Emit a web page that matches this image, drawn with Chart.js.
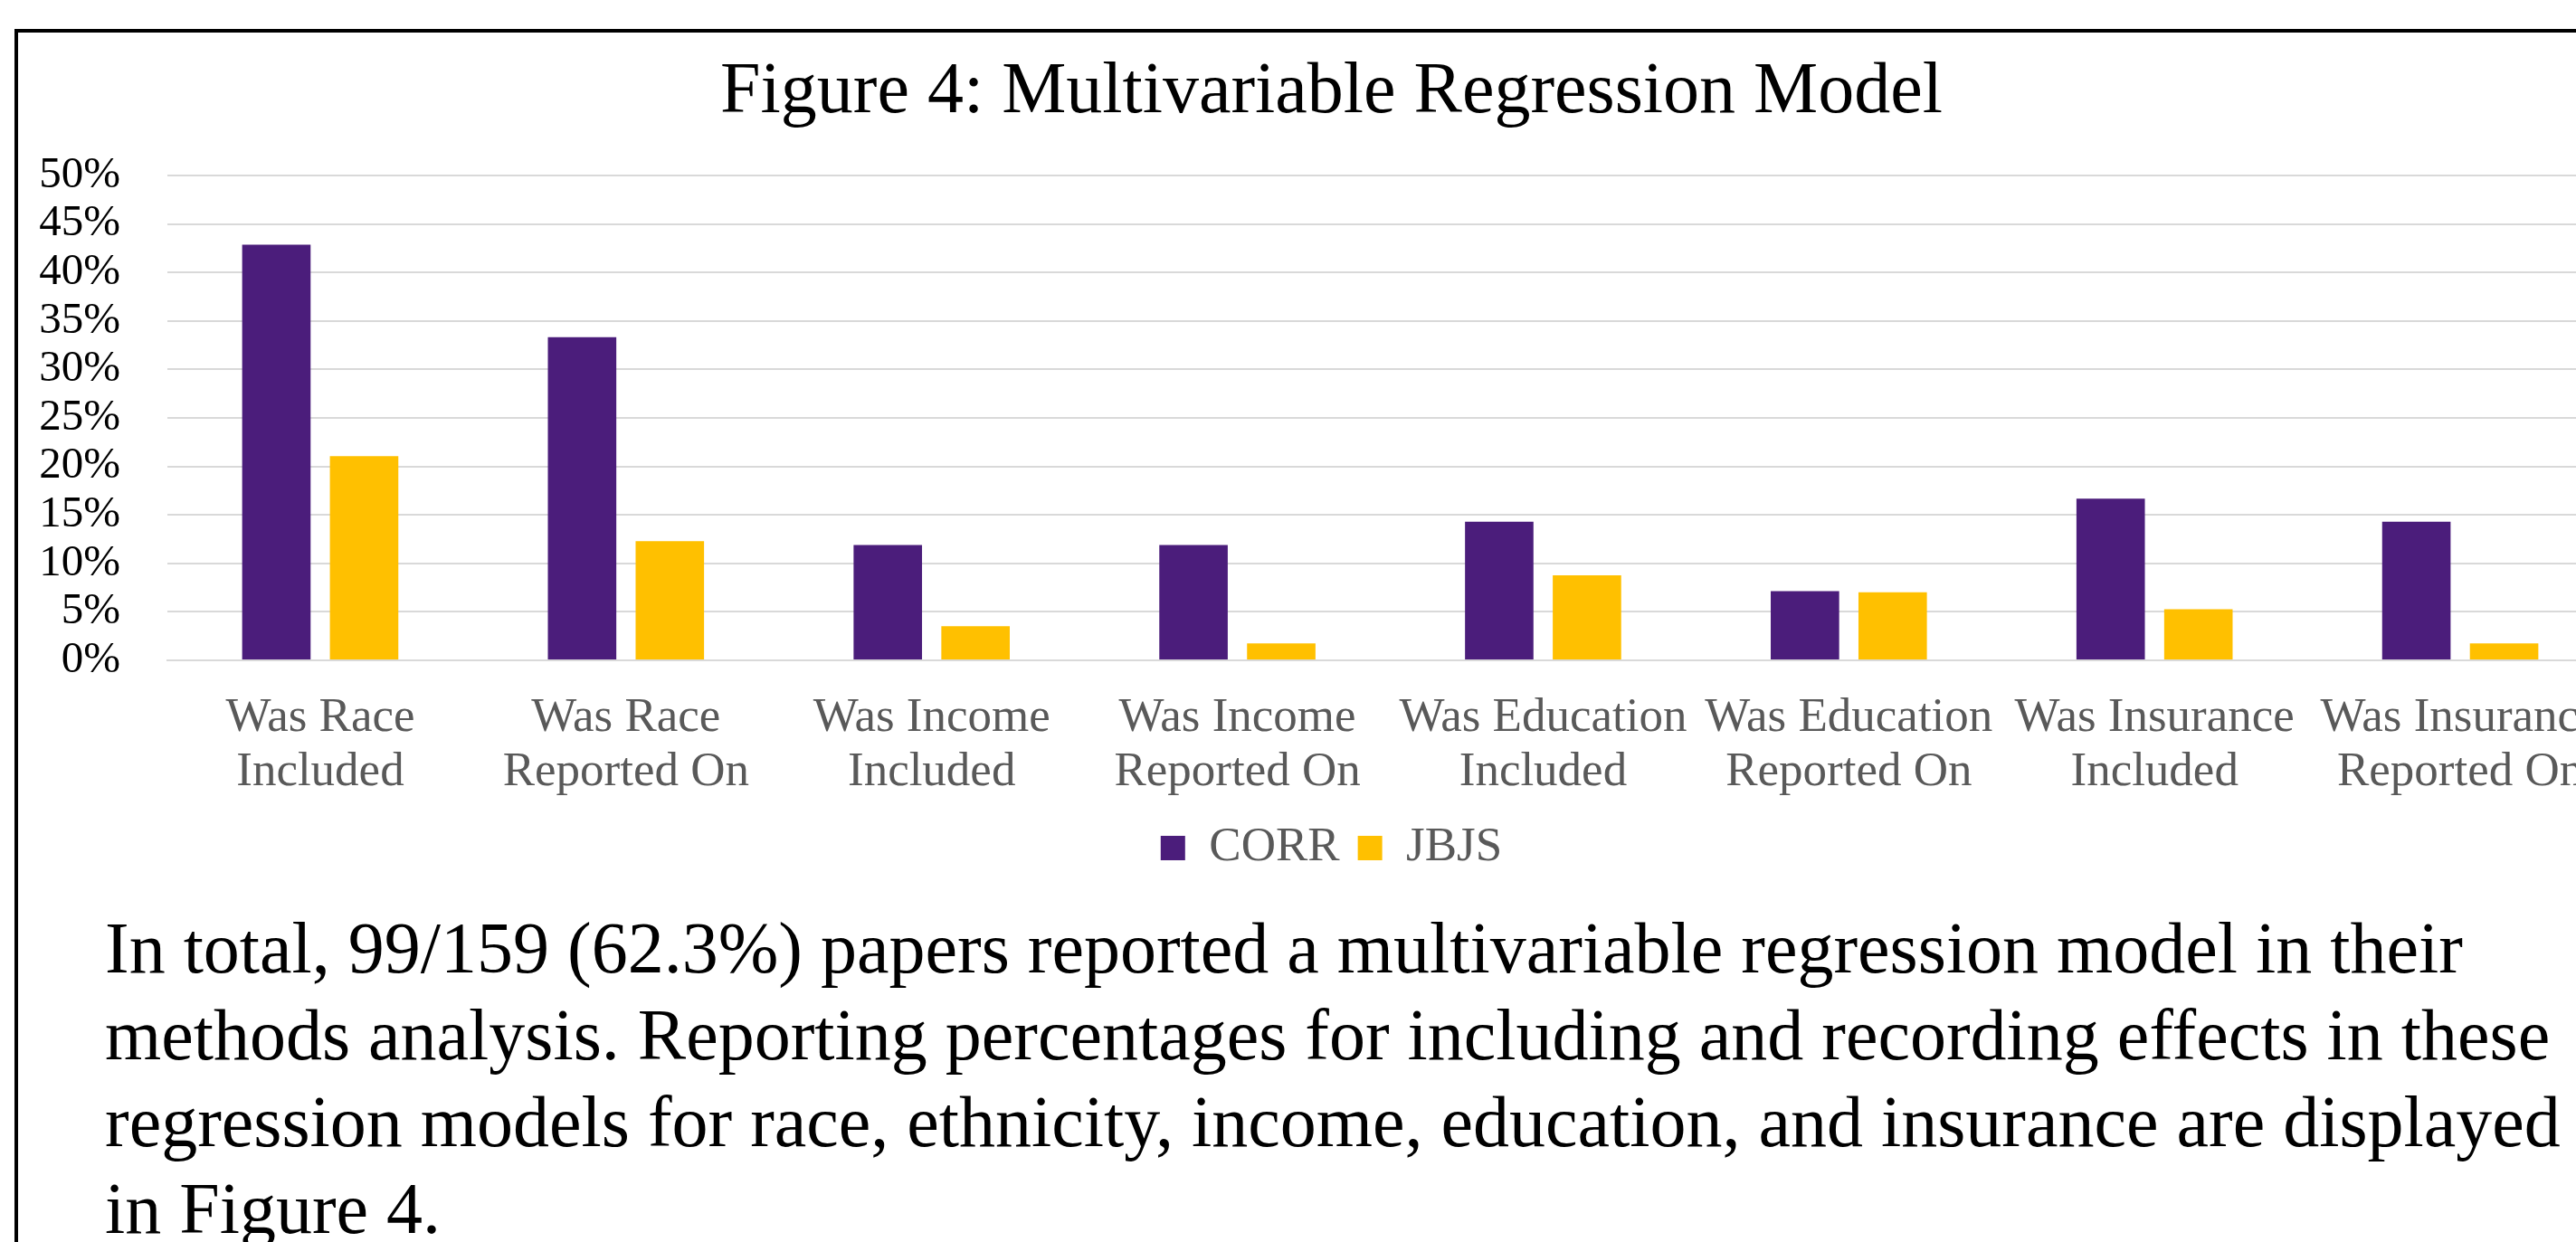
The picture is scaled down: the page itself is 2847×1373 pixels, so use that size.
<!DOCTYPE html>
<html>
<head>
<meta charset="utf-8">
<script src="https://cdn.jsdelivr.net/npm/chart.js@4.4.1/dist/chart.umd.min.js"></script>
<style>
  html, body { margin: 0; padding: 0; background: #ffffff; overflow: hidden; width: 2847px; height: 1373px; }
  #frame { position: absolute; left: 16px; top: 32px; width: 3000px; height: 1500px; border: 4px solid #000000; box-sizing: border-box; }
  #chartCanvas { position: absolute; left: 0; top: 0; }
  #caption { position: absolute; left: 116px; top: 1000px; font-family: 'Liberation Serif', 'Times New Roman', serif; font-size: 80px; line-height: 96px; color: #000000; white-space: nowrap; }
</style>
</head>
<body>
<div id="frame"></div>
<canvas id="chartCanvas" width="2943" height="974"></canvas>
<div id="caption">In total, 99/159 (62.3%) papers reported a multivariable regression model in their<br>methods analysis. Reporting percentages for including and recording effects in these<br>regression models for race, ethnicity, income, education, and insurance are displayed<br>in Figure 4.</div>
<script>
const categories = [
  ['Was Race', 'Included'],
  ['Was Race', 'Reported On'],
  ['Was Income', 'Included'],
  ['Was Income', 'Reported On'],
  ['Was Education', 'Included'],
  ['Was Education', 'Reported On'],
  ['Was Insurance', 'Included'],
  ['Was Insurance', 'Reported On']
];
const seriesNames = ['CORR', 'JBJS'];
const corrValues = [42.86, 33.33, 11.90, 11.90, 14.29, 7.14, 16.67, 14.29];
const jbjsValues = [21.05, 12.28, 3.51, 1.75, 8.77, 7.02, 5.26, 1.75];
const yTicks = [0, 5, 10, 15, 20, 25, 30, 35, 40, 45, 50];
const titleText = 'Figure 4: Multivariable Regression Model';

const serif = "'Liberation Serif', 'Times New Roman', serif";

new Chart(document.getElementById('chartCanvas'), {
  type: 'bar',
  data: {
    labels: categories,
    datasets: [
      { label: seriesNames[0], data: corrValues, backgroundColor: '#4B1D7B', borderWidth: 0,
        categoryPercentage: 0.574, barPercentage: 0.78 },
      { label: seriesNames[1], data: jbjsValues, backgroundColor: '#FFC000', borderWidth: 0,
        categoryPercentage: 0.574, barPercentage: 0.78 }
    ]
  },
  options: {
    responsive: false,
    animation: false,
    devicePixelRatio: 1,
    layout: { padding: { left: 20, right: 20, top: 36, bottom: 0 } },
    plugins: {
      tooltip: { enabled: false },
      title: {
        display: true,
        text: titleText,
        color: '#000000',
        font: { family: serif, size: 80, weight: 'normal', lineHeight: 1.2 },
        padding: { top: 19, bottom: 43 }
      },
      legend: {
        display: true,
        position: 'bottom',
        labels: {
          color: '#595959',
          font: { family: serif, size: 53 },
          boxWidth: 27,
          boxHeight: 27,
          padding: 20
        }
      }
    },
    scales: {
      x: {
        grid: { display: false, drawTicks: false },
        border: { display: true, color: '#D9D9D9', width: 2 },
        ticks: {
          color: '#595959',
          font: { family: serif, size: 53, lineHeight: 1.132 },
          padding: 34,
          autoSkip: false,
          maxRotation: 0,
          minRotation: 0
        },
        afterFit(s) { s.height = 161; }
      },
      y: {
        min: 0,
        max: 50,
        afterBuildTicks(s) { s.ticks = yTicks.map(v => ({ value: v })); },
        grid: { color: '#D9D9D9', lineWidth: 2, drawTicks: false },
        border: { display: false },
        ticks: {
          color: '#000000',
          font: { family: serif, size: 49, lineHeight: 1.0 },
          padding: 52,
          autoSkip: false,
          callback: v => v + '%'
        },
        afterFit(s) { s.width = 165; }
      },
      y2: {
        position: 'right',
        display: true,
        grid: { display: false, drawTicks: false },
        border: { display: false },
        ticks: { display: false },
        afterFit(s) { s.width = 35; }
      }
    }
  }
});
</script>
</body>
</html>
